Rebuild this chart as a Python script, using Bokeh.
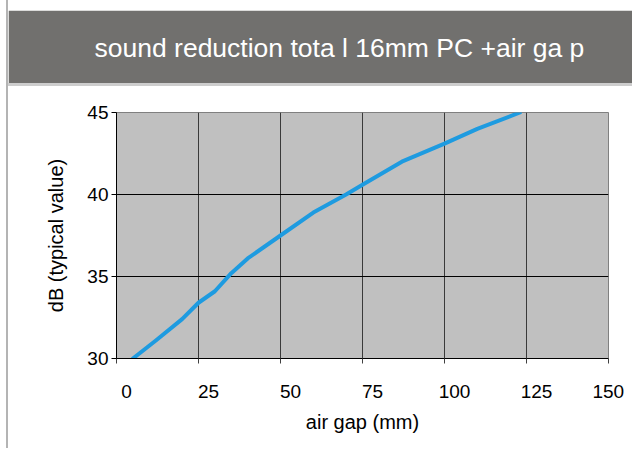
from bokeh.plotting import figure
from bokeh.models import Range1d, LinearAxis, FixedTicker
from bokeh.layouts import column
from bokeh.embed import file_html
from bokeh.resources import INLINE

title_text = "sound reduction tota l 16mm PC +air ga p"
x_label = "air gap (mm)"
y_label = "dB (typical value)"
air_gap = [5, 12, 20, 25, 30, 35, 40, 50, 60, 70, 75, 87, 100, 110, 123]
db = [30, 31.1, 32.4, 33.4, 34.1, 35.2, 36.1, 37.5, 38.9, 40.0, 40.6, 42.0, 43.1, 44.0, 45.0]
x_ticks = [0, 25, 50, 75, 100, 125, 150]
x_label_pos = [0, 25, 50, 75, 100, 125, 146.9]
x_tick_labels = ["0", "25", "50", "75", "100", "125", "150"]
y_ticks = [30, 35, 40, 45]

FONT = "Liberation Sans"
BAR = "#71706e"
LABEL_SHIFT = 3.05  # Excel-style label offset, in axis units

# ---- header bar ----
head = figure(width=624, height=73, output_backend="svg", toolbar_location=None,
              x_range=Range1d(0, 1), y_range=Range1d(0, 1),
              min_border_left=108, min_border_right=24, min_border_top=52, min_border_bottom=0,
              x_axis_location=None, y_axis_location=None, title=title_text)
head.grid.visible = False
head.background_fill_color = BAR
head.border_fill_color = BAR
head.outline_line_color = BAR
head.outline_line_width = 3
head.title.text_color = "white"
head.title.text_font = FONT
head.title.text_font_size = "26.5px"
head.title.text_font_style = "normal"
head.title.align = "left"
head.title.offset = -22
head.title.standoff = 0
head.styles = {"margin-top": "10px"}

# ---- chart ----
p = figure(width=624, height=365, x_range=Range1d(0, 150), y_range=Range1d(30, 45),
           output_backend="svg", toolbar_location=None, x_axis_location=None,
           min_border_left=108, min_border_right=24, min_border_top=26, min_border_bottom=93)
p.background_fill_color = "#c0c0c0"
p.border_fill_color = "white"
p.outline_line_color = "#808080"
p.styles = {"border-top": "3px solid #cdcdcd"}

p.yaxis.ticker = FixedTicker(ticks=y_ticks)
p.yaxis.axis_label = y_label
p.yaxis.axis_label_standoff = 17
p.yaxis.axis_label_text_font = FONT
p.yaxis.axis_label_text_font_style = "normal"
p.yaxis.axis_label_text_font_size = "20px"
p.yaxis.axis_label_text_color = "black"
p.yaxis.major_label_text_font = FONT
p.yaxis.major_label_text_font_size = "19px"
p.yaxis.major_label_text_color = "black"
p.yaxis.major_label_standoff = 3
p.yaxis.major_tick_out = 5
p.yaxis.major_tick_in = 0
p.yaxis.minor_tick_line_color = None
p.yaxis.axis_line_color = "black"
p.yaxis.major_tick_line_color = "black"

p.extra_x_ranges = {"lab": Range1d(-LABEL_SHIFT, 150 - LABEL_SHIFT)}
x_axis = LinearAxis(
    x_range_name="lab",
    ticker=FixedTicker(ticks=x_label_pos, minor_ticks=[t - LABEL_SHIFT for t in x_ticks]),
    major_label_overrides={pos: lab for pos, lab in zip(x_label_pos, x_tick_labels)},
    axis_line_color="black",
    major_tick_line_color=None, major_tick_out=0, major_tick_in=0,
    minor_tick_line_color="#404040", minor_tick_out=5, minor_tick_in=0,
    major_label_text_font=FONT, major_label_text_font_size="19px",
    major_label_text_color="black", major_label_standoff=21,
    axis_label=x_label, axis_label_text_font=FONT,
    axis_label_text_font_style="normal", axis_label_text_font_size="20px",
    axis_label_text_color="black", axis_label_standoff=10)
p.add_layout(x_axis, "below")

p.xgrid.ticker = FixedTicker(ticks=x_ticks)
p.xgrid.grid_line_color = "#3a3a3a"
p.ygrid.ticker = FixedTicker(ticks=y_ticks)
p.ygrid.grid_line_color = "black"

p.line(air_gap, db, line_width=4, line_color="#1e9be0", line_join="round", line_cap="round")

layout = column(head, p, spacing=0,
                styles={"margin-left": "6px", "border-left": "2px solid #b4b4b4"})
open("out.html", "w").write(file_html(layout, INLINE))
